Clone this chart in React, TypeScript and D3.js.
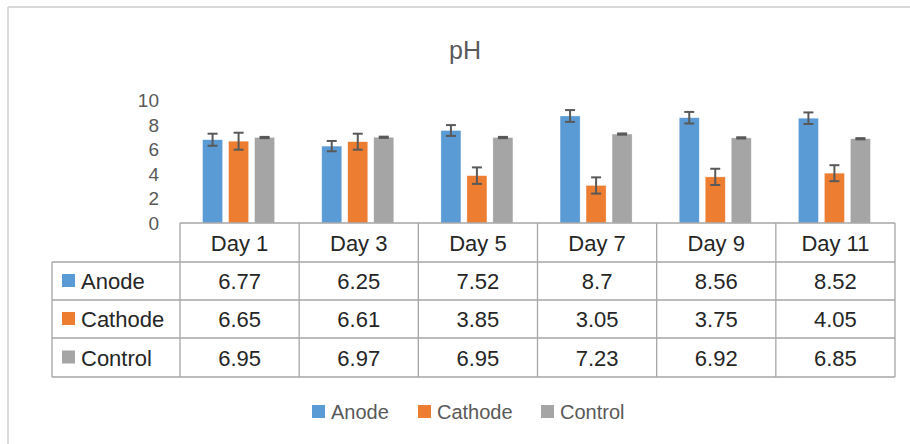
import React from 'react'
import * as d3 from 'd3'

// data
const days = ['Day 1', 'Day 3', 'Day 5', 'Day 7', 'Day 9', 'Day 11']
const seriesNames = ['Anode', 'Cathode', 'Control']
const anode = [6.77, 6.25, 7.52, 8.7, 8.56, 8.52]
const cathode = [6.65, 6.61, 3.85, 3.05, 3.75, 4.05]
const control = [6.95, 6.97, 6.95, 7.23, 6.92, 6.85]
const anodeErr = [0.49, 0.42, 0.44, 0.48, 0.47, 0.47]
const cathodeErr = [0.69, 0.65, 0.67, 0.66, 0.66, 0.65]
const controlErr = [0.05, 0.05, 0.05, 0.05, 0.05, 0.05]
const yTicks = [0, 2, 4, 6, 8, 10]

const colors = ['#5b9bd5', '#ed7d31', '#a5a5a5']
const textCol = '#595959'
const gridCol = '#a6a6a6'

export default function App() {
  const width = 910
  const height = 444
  const values = [anode, cathode, control]
  const errs = [anodeErr, cathodeErr, controlErr]

  // plot area
  const x = d3.scaleBand().domain(days).range([180, 895])
  const y = d3.scaleLinear().domain([0, 10]).range([223, 100])
  const inner = d3.scaleBand().domain(seriesNames).range([-37, 35]).paddingInner(0.231)

  // table rows
  const tableLeft = 52
  const rowEdges = [223, 262, 300, 338, 377]
  const font = "'Liberation Sans', Arial, sans-serif"

  const legendX = [312, 418, 541]

  return (
    <svg width={width} height={height} style={{ position: 'absolute', left: 0, top: 0 }} fontFamily={font}>
      <rect x={0} y={0} width={width} height={height} fill="#fff" />
      {/* frame (left/top only visible) */}
      <line x1={8} x2={width} y1={7} y2={7} stroke="#d9d9d9" strokeWidth={2} />
      <line x1={8} x2={8} y1={7} y2={height} stroke="#d9d9d9" strokeWidth={2} />

      <text x={465} y={59} textAnchor="middle" fontSize={25} fill={textCol}>pH</text>

      {/* y axis labels */}
      {yTicks.map(t => (
        <text key={t} x={159} y={y(t) + 7} textAnchor="end" fontSize={19} fill={textCol}>{t}</text>
      ))}

      {/* bars */}
      {values.map((vals, si) =>
        vals.map((v, i) => {
          const cx = (x(days[i]) as number) + x.bandwidth() / 2
          const bx = cx + (inner(seriesNames[si]) as number)
          const bw = inner.bandwidth()
          return (
            <rect key={si + '-' + i} x={bx} y={y(v)} width={bw} height={y(0) - y(v)}
              fill={colors[si]} stroke="#fff" strokeOpacity={0.5} strokeWidth={0.6} />
          )
        })
      )}

      {/* error bars */}
      {values.map((vals, si) =>
        vals.map((v, i) => {
          const cx = (x(days[i]) as number) + x.bandwidth() / 2
          const mx = cx + (inner(seriesNames[si]) as number) + inner.bandwidth() / 2
          const e = errs[si][i]
          const top = y(v + e)
          const bot = y(v - e)
          return (
            <g key={'e' + si + '-' + i} stroke={textCol} strokeWidth={2}>
              <line x1={mx} x2={mx} y1={top} y2={bot} />
              <line x1={mx - 5} x2={mx + 5} y1={top} y2={top} />
              <line x1={mx - 5} x2={mx + 5} y1={bot} y2={bot} />
            </g>
          )
        })
      )}

      {/* data table */}
      <g stroke={gridCol} strokeWidth={1.3}>
        <line x1={180} x2={895} y1={rowEdges[0]} y2={rowEdges[0]} />
        {rowEdges.slice(1).map(r => (
          <line key={r} x1={tableLeft} x2={895} y1={r} y2={r} />
        ))}
        <line x1={tableLeft} x2={tableLeft} y1={rowEdges[1]} y2={rowEdges[4]} />
        {days.map(d => (
          <line key={d} x1={x(d)} x2={x(d)} y1={rowEdges[0]} y2={rowEdges[4]} />
        ))}
        <line x1={895} x2={895} y1={rowEdges[0]} y2={rowEdges[4]} />
      </g>
      {days.map(d => (
        <text key={'h' + d} x={(x(d) as number) + x.bandwidth() / 2} y={(rowEdges[0] + rowEdges[1]) / 2 + 8}
          textAnchor="middle" fontSize={22} fill="#262626">{d}</text>
      ))}
      {seriesNames.map((s, si) => {
        const mid = (rowEdges[si + 1] + rowEdges[si + 2]) / 2
        return (
          <g key={'r' + s}>
            <rect x={62} y={mid - 7} width={13} height={13} fill={colors[si]} />
            <text x={81} y={mid + 8} fontSize={22} fill="#262626">{s}</text>
            {values[si].map((v, i) => (
              <text key={i} x={(x(days[i]) as number) + x.bandwidth() / 2} y={mid + 8}
                textAnchor="middle" fontSize={22} fill="#262626">{v}</text>
            ))}
          </g>
        )
      })}

      {/* legend */}
      {seriesNames.map((s, si) => (
        <g key={'l' + s}>
          <rect x={legendX[si]} y={405} width={13} height={13} fill={colors[si]} />
          <text x={legendX[si] + 19} y={419} fontSize={20} fill={textCol}>{s}</text>
        </g>
      ))}
    </svg>
  )
}
